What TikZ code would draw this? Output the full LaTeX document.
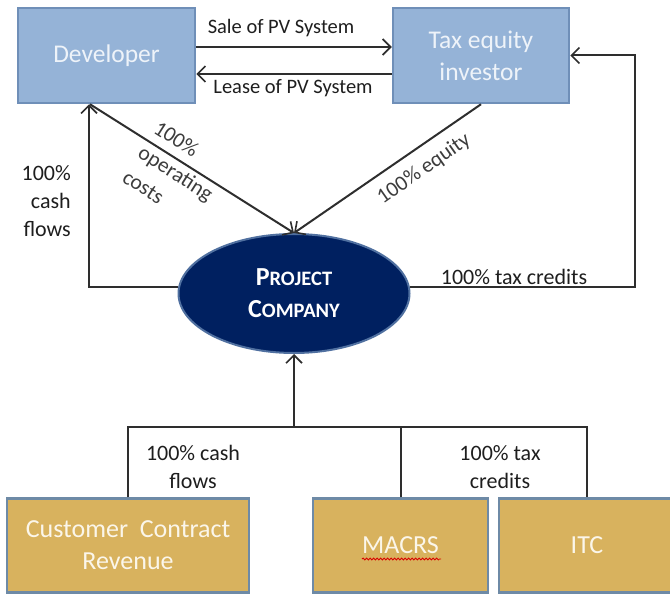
\documentclass[tikz,border=0pt]{standalone}
\usepackage{fontspec}
\setmainfont{Carlito}
\usetikzlibrary{arrows.meta,shapes.geometric,decorations.pathmorphing}
\definecolor{boxblue}{HTML}{95B3D7}
\definecolor{boxblueline}{HTML}{6F8FB8}
\definecolor{boxgold}{HTML}{D8B25E}
\definecolor{goldline}{HTML}{6E8AA6}
\definecolor{navy}{HTML}{002060}
\definecolor{navyline}{HTML}{5070A0}
\definecolor{conn}{HTML}{2E2E2E}
\definecolor{lbl}{HTML}{1E1E1E}
\definecolor{glbl}{HTML}{3C3C3C}
\definecolor{toptext}{HTML}{EEF3F9}
\definecolor{goldtext}{HTML}{FBF6EA}
\begin{document}
\begin{tikzpicture}[x=1pt,y=-1pt,
  topbox/.style={draw=boxblueline, line width=2.5pt, fill=boxblue, minimum width=177pt, minimum height=95pt, inner sep=0pt, align=center, text=toptext, font=\fontsize{25.5}{32}\selectfont},
  goldbox/.style={draw=goldline, line width=2.5pt, fill=boxgold, minimum height=94pt, inner sep=0pt, align=center, text=goldtext, font=\fontsize{26}{32}\selectfont},
  pcnode/.style={ellipse, draw=navyline, line width=2pt, fill=navy, minimum width=231pt, minimum height=119pt, inner sep=0pt, align=center, text=white, font=\bfseries\fontsize{26}{32}\selectfont},
  conline/.style={draw=conn, line width=2pt},
  arr/.style={conline, -{Straight Barb[length=8pt,width=16pt,line width=1.6pt]}},
  lab/.style={inner sep=0pt, text=lbl, font=\fontsize{22}{28}\selectfont},
  slab/.style={inner sep=0pt, text=lbl, font=\fontsize{20.5}{24}\selectfont},
  glab/.style={inner sep=0pt, text=glbl, font=\fontsize{21.5}{29}\selectfont}
]
\useasboundingbox (0,0) rectangle (670,594);

% main nodes
\node[topbox] (dev) at (106.5,55.5) {Developer};
\node[topbox, minimum width=176pt] (tax) at (481,55.5) {Tax equity\\investor};
\node[pcnode] (pc) at (294,293.5) {P{\fontsize{20.5}{32}\selectfont ROJECT}\\C{\fontsize{20.5}{32}\selectfont OMPANY}};
\node[goldbox, minimum width=242pt] (ccr) at (128,545.5) {Customer\ \ Contract\\Revenue};
\node[goldbox, minimum width=175pt] (macrs) at (400.5,545.5) {MACRS};
\node[goldbox, minimum width=176pt] (itc) at (587,545.5) {ITC};

% spell-check squiggle under MACRS
\draw[red!85!black, line width=0.8pt, decorate, decoration={snake, segment length=3.5pt, amplitude=1pt}] (362,559) -- (441,559);

% helper coordinates
\coordinate (rc) at (635,200);
\coordinate (j) at (294,427);

% top exchange arrows
\draw[arr] ([yshift=8.5pt]dev.east) -- ([yshift=8.5pt]tax.west);
\draw[arr] ([yshift=-18.5pt]tax.west) -- ([yshift=-18.5pt]dev.east);

% diagonals to project company
\draw[arr] ([xshift=-16.5pt]dev.south) -- (pc.north);
\draw[arr] (tax.south) -- (pc.north);

% side loops
\draw[arr] (pc.177) -| ([xshift=-17.5pt]dev.south);
\draw[arr] (pc.3) -| (rc) |- (tax.east);

% bottom tree
\draw[arr] (j) -- (pc.south);
\draw[conline] (ccr.north) -- (ccr.north |- j) -- (itc.north |- j) -- (itc.north);
\draw[conline] (macrs.north) -- (macrs.north |- j);

% labels
\node[slab] (lsale) at (281,28) {Sale of PV System};
\node[slab] (llease) at (293,88) {Lease of PV System};
\node[lab, align=right, anchor=east] (lcashl) at (71,201) {100\%\\cash\\flows};
\node[glab, align=left, rotate=-32.5] (lop) at (176,173) {100\%\\operating\\costs};
\node[glab, rotate=35] (leq) at (424,169) {100\% equity};
\node[lab] (ltaxr) at (514,277) {100\% tax credits};
\node[lab, align=center] (lcashb) at (193,467) {100\% cash\\flows};
\node[lab, align=center] (ltaxb) at (500,467) {100\% tax\\credits};
\end{tikzpicture}
\end{document}
